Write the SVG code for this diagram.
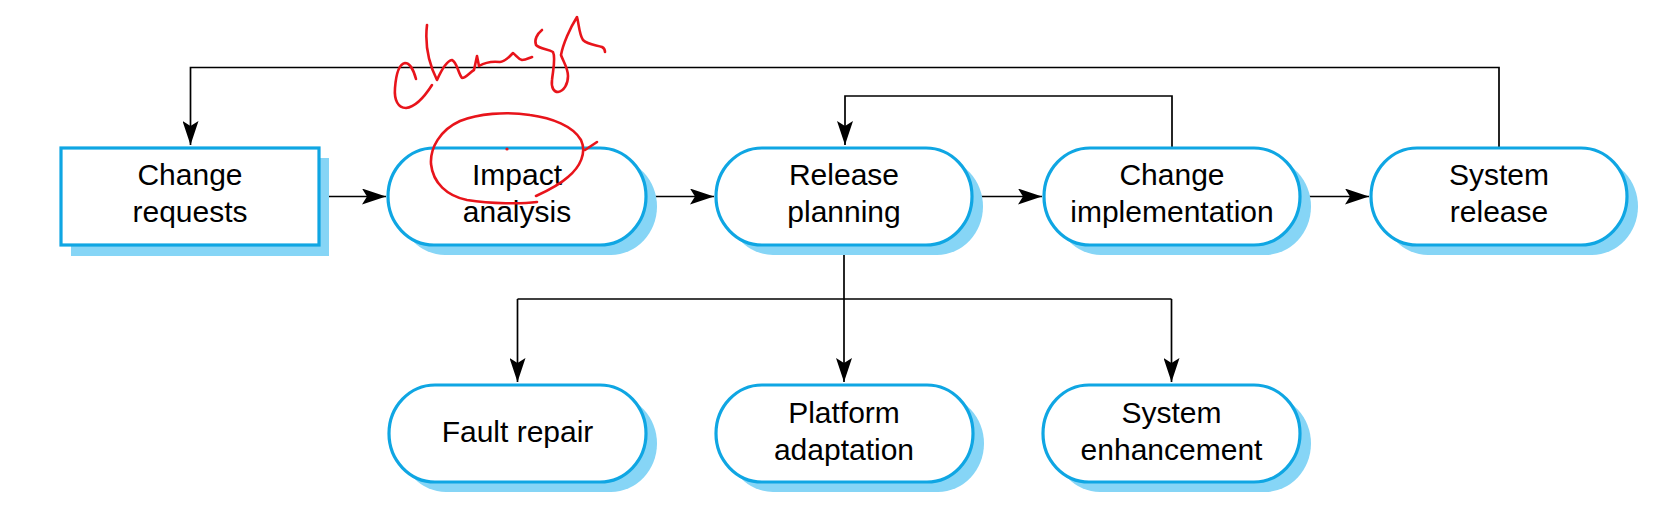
<svg xmlns="http://www.w3.org/2000/svg" width="1660" height="531" viewBox="0 0 1660 531">
<style>
.shadow{fill:#86d5f6;stroke:none}
.box{fill:#ffffff;stroke:#0fa6e3;stroke-width:3.2}
.lbl{font-family:"Liberation Sans",Arial,sans-serif;font-size:30px;fill:#000;text-anchor:middle}
.conn{fill:none;stroke:#000;stroke-width:1.7}
.ink{fill:none;stroke:#e8141b;stroke-width:2.6;stroke-linecap:round;stroke-linejoin:round}
</style>
<defs>
<marker id="arr" viewBox="-24 -8 25 16" refX="0" refY="0" markerWidth="25" markerHeight="16" markerUnits="userSpaceOnUse" orient="auto">
<path d="M0,0 L-24,-8 L-19,0 L-24,8 Z" fill="#000"/>
</marker>
</defs>
<rect width="1660" height="531" fill="#ffffff"/>

<g id="connectors">
<path class="conn" d="M319,196.5 H386" marker-end="url(#arr)"/>
<path class="conn" d="M646,196.5 H714" marker-end="url(#arr)"/>
<path class="conn" d="M972,196.5 H1042" marker-end="url(#arr)"/>
<path class="conn" d="M1300,196.5 H1369" marker-end="url(#arr)"/>
<path class="conn" d="M1172,147 V96 H845 V145" marker-end="url(#arr)"/>
<path class="conn" d="M1499,147 V67.5 H190.5 V145" marker-end="url(#arr)"/>
<path class="conn" d="M844,245 V382" marker-end="url(#arr)"/>
<path class="conn" d="M517.5,299 H1171.5"/>
<path class="conn" d="M517.5,299 V382" marker-end="url(#arr)"/>
<path class="conn" d="M1171.5,299 V382" marker-end="url(#arr)"/>
</g>

<g id="change-requests">
<rect class="shadow" x="71" y="158" width="258" height="98"/>
<rect class="box" x="61" y="148" width="258" height="97"/>
<text class="lbl" x="190" y="185">Change</text>
<text class="lbl" x="190" y="222">requests</text>
</g>

<g id="impact-analysis">
<rect class="shadow" x="399" y="158" width="258" height="97" rx="46" ry="48.5"/>
<rect class="box" x="388" y="148" width="258" height="97" rx="46" ry="48.5"/>
<text class="lbl" x="517" y="185">Impact</text>
<text class="lbl" x="517" y="222">analysis</text>
</g>

<g id="release-planning">
<rect class="shadow" x="727" y="158" width="256" height="97" rx="46" ry="48.5"/>
<rect class="box" x="716" y="148" width="256" height="97" rx="46" ry="48.5"/>
<text class="lbl" x="844" y="185">Release</text>
<text class="lbl" x="844" y="222">planning</text>
</g>

<g id="change-implementation">
<rect class="shadow" x="1055" y="158" width="256" height="97" rx="46" ry="48.5"/>
<rect class="box" x="1044" y="148" width="256" height="97" rx="46" ry="48.5"/>
<text class="lbl" x="1172" y="185">Change</text>
<text class="lbl" x="1172" y="222">implementation</text>
</g>

<g id="system-release">
<rect class="shadow" x="1382" y="158" width="256" height="97" rx="46" ry="48.5"/>
<rect class="box" x="1371" y="148" width="256" height="97" rx="46" ry="48.5"/>
<text class="lbl" x="1499" y="185">System</text>
<text class="lbl" x="1499" y="222">release</text>
</g>

<g id="fault-repair">
<rect class="shadow" x="400" y="395" width="257" height="97" rx="46" ry="48.5"/>
<rect class="box" x="389" y="385" width="257" height="97" rx="46" ry="48.5"/>
<text class="lbl" x="517.5" y="442">Fault repair</text>
</g>

<g id="platform-adaptation">
<rect class="shadow" x="727" y="395" width="257" height="97" rx="46" ry="48.5"/>
<rect class="box" x="716" y="385" width="257" height="97" rx="46" ry="48.5"/>
<text class="lbl" x="844" y="423">Platform</text>
<text class="lbl" x="844" y="460">adaptation</text>
</g>

<g id="system-enhancement">
<rect class="shadow" x="1054" y="395" width="257" height="97" rx="46" ry="48.5"/>
<rect class="box" x="1043" y="385" width="257" height="97" rx="46" ry="48.5"/>
<text class="lbl" x="1171.5" y="423">System</text>
<text class="lbl" x="1171.5" y="460">enhancement</text>
</g>

<g id="annotation">
<path class="ink" d="M416,79 C414,71 410,63 405,63 C399,64 396,75 395,88 C394,100 398,108 406,108 C415,107 425,96 432,85"/>
<path class="ink" d="M427,25 C425,42 428,62 437,80 C441,71 446,61 452,60 C457,62 458,73 462,78 C466,78 470,72 474,70 L477,56 L479,66 C484,63 492,61 500,62 C505,62 509,57 513,53 C516,55 518,59 522,60 C526,60 529,58 532,57"/>
<path class="ink" d="M542,30 C537,34 534,40 536,45 C540,49 548,49 553,52 C556,58 553,70 552,80 C551,88 554,92 558,92 C564,91 568,84 568,76 C568,68 563,61 561,55 C563,44 570,28 577,17 C579,24 579,34 583,40 C588,45 597,45 602,47 C604,48 605,50 605,52"/>
<path class="ink" d="M537,202 C522,204 492,204 467,200 C447,196 433,183 431,164 C430,148 440,130 460,121 C478,114 505,111 530,115 C552,118 573,126 581,140 C587,153 580,167 568,177 C558,186 547,191 536,196"/>
<path class="ink" d="M585,150 L597,142"/>
<circle cx="507" cy="149" r="1.6" fill="#e8141b"/>
</g>
</svg>
